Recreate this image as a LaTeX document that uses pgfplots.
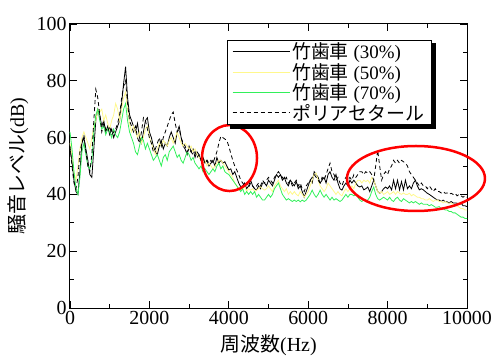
\documentclass[border=0pt]{standalone}
\usepackage{fontspec}
\setmainfont{Liberation Serif}
\newfontfamily\cjk{Noto Sans CJK JP}
\usepackage{pgfplots}
\pgfplotsset{compat=1.18}
\definecolor{yel}{RGB}{255,248,140}
\definecolor{grn}{RGB}{50,240,90}
\begin{document}
\begin{tikzpicture}
\begin{axis}[
  at={(0,0)}, anchor=south west,
  scale only axis, width=397bp, height=284bp,
  xmin=0, xmax=10000, ymin=0, ymax=100,
  xtick={0,2000,...,10000}, ytick={0,20,...,100},
  minor x tick num=1, minor y tick num=1,
  tick align=inside,
  major tick length=7bp, minor tick length=4bp,
  scaled x ticks=false,
  /pgf/number format/1000 sep={},
  /pgf/number format/assume math mode=true,
  tick label style={font=\fontsize{20}{22}\selectfont},
  axis line style={line width=1bp},
  every tick/.style={black, line width=0.8bp},
  clip=false,
  xlabel={{\cjk 周波数}(Hz)},
  ylabel={{\cjk 騒音レベル}(dB)},
  label style={font=\fontsize{20}{22}\selectfont},
  xlabel style={at={(axis description cs:0.5,-0.130)},anchor=center},
  ylabel style={at={(axis description cs:-0.131,0.5)},anchor=center},
  legend style={name=leg, at={(rel axis cs:0.395,0.944)}, anchor=north west,
    font=\fontsize{19}{19}\selectfont, draw=black, line width=1bp,
    fill=white, inner xsep=5bp, inner ysep=0.5bp, row sep=-1pt},
  legend cell align=left,
  legend image code/.code={\draw[#1] (0bp,0bp) -- (57bp,0bp);},
]
\addplot[black, line width=0.8bp] table[row sep=\\] {x y\\
0 56\\50 52\\100 45\\150 41\\200 40\\250 48\\300 58\\350 60\\400 56\\450 52\\500 47\\550 46\\600 56\\650 66\\700 70\\750 68\\800 64\\850 66\\900 62\\950 64\\1000 61\\1050 63\\1100 60\\1150 62\\1200 64\\1250 66\\1300 72\\1350 79\\1400 85\\1450 74\\1500 68\\1550 66\\1600 64\\1650 62\\1700 65\\1750 60\\1800 58\\1850 62\\1900 66\\1950 67\\2000 62\\2050 60\\2100 57\\2150 55\\2200 54\\2250 57\\2300 59\\2350 56\\2400 58\\2450 57\\2500 60\\2550 62\\2600 60\\2650 58\\2700 62\\2750 64\\2800 60\\2850 57\\2900 56\\2950 54\\3000 57\\3050 55\\3100 56\\3150 53\\3200 55\\3250 54\\3300 52\\3350 53\\3400 51\\3450 52\\3500 50\\3550 51\\3600 52\\3650 50\\3700 53\\3750 51\\3800 52\\3850 51\\3900 51.5\\3950 50\\4000 48.6\\4050 49\\4100 47\\4150 48\\4200 46\\4250 44\\4300 42.7\\4350 43\\4400 44\\4450 42\\4500 43\\4550 45\\4600 43\\4650 42\\4700 41.5\\4750 43\\4800 42\\4850 44\\4900 44\\4950 43\\5000 45\\5050 44\\5100 43\\5150 45\\5200 47\\5250 46\\5300 47\\5350 45\\5400 46\\5450 44\\5500 43\\5550 45\\5600 44\\5650 43\\5700 44.5\\5750 42\\5800 43\\5850 41\\5900 39\\5950 41\\6000 43\\6050 45\\6100 44\\6150 48\\6200 47\\6250 46\\6300 44\\6350 45\\6400 46\\6450 44\\6500 47\\6550 48\\6600 46\\6650 45\\6700 47\\6750 44\\6800 42\\6850 41.5\\6900 43\\6950 44\\7000 43\\7050 45\\7100 44\\7150 45\\7200 44\\7250 43\\7300 42.6\\7350 43\\7400 41.6\\7450 42\\7500 42.6\\7550 41\\7600 43\\7650 45\\7700 43\\7750 41\\7800 40.4\\7850 41\\7900 42\\7950 42.6\\8000 42\\8050 43\\8100 41.6\\8150 45\\8200 42\\8250 45\\8300 41.6\\8350 44.5\\8400 41.6\\8450 45\\8500 42\\8550 43\\8600 42\\8650 44\\8700 45\\8750 43\\8800 41.6\\8850 42\\8900 41.6\\8950 41\\9000 40.4\\9050 40\\9100 39.5\\9150 39\\9200 38.5\\9250 38\\9300 38\\9350 37.5\\9400 38\\9450 37.4\\9500 37.4\\9550 37\\9600 37.5\\9650 37\\9700 37\\9750 36.9\\9800 36.5\\9850 37\\9900 36\\9950 36\\10000 35.7\\
};
\addlegendentry{{\cjk 竹歯車} (30\%)}
\addplot[yel, line width=0.8bp] table[row sep=\\] {x y\\
0 58\\50 54\\100 48\\150 45\\200 50\\250 56\\300 60\\350 62\\400 60\\450 58\\500 56\\550 60\\600 64\\650 66\\700 70\\750 69\\800 70\\850 66\\900 68\\950 65\\1000 63\\1050 66\\1100 68\\1150 72\\1200 70\\1250 66\\1300 70\\1350 74\\1400 76\\1450 70\\1500 65\\1550 62\\1600 64\\1650 62\\1700 60\\1750 62\\1800 58\\1850 60\\1900 63\\1950 64\\2000 60\\2050 58\\2100 56\\2150 54\\2200 56\\2250 58\\2300 57\\2350 59\\2400 58\\2450 57\\2500 59\\2550 60\\2600 58\\2650 60\\2700 62\\2750 60\\2800 58\\2850 57\\2900 58\\2950 57\\3000 56\\3050 57\\3100 55\\3150 56\\3200 54\\3250 53\\3300 52\\3350 51\\3400 52\\3450 50\\3500 51\\3550 50\\3600 49\\3650 50\\3700 51\\3750 52\\3800 52\\3850 51\\3900 50\\3950 49\\4000 48\\4050 47\\4100 46\\4150 44\\4200 43\\4250 42\\4300 41.5\\4350 42\\4400 42.7\\4450 41\\4500 42\\4550 41.5\\4600 42\\4650 41\\4700 41.5\\4750 42\\4800 42.7\\4850 42\\4900 41.5\\4950 42\\5000 43\\5050 42\\5100 41\\5150 43\\5200 44\\5250 45\\5300 43\\5350 42\\5400 41\\5450 42\\5500 40\\5550 41\\5600 40\\5650 41\\5700 40\\5750 39.5\\5800 41\\5850 40\\5900 39\\5950 40\\6000 41\\6050 43\\6100 45\\6150 47\\6200 47.5\\6250 45\\6300 43\\6350 42\\6400 41\\6450 42\\6500 44\\6550 43\\6600 42\\6650 41\\6700 40\\6750 41\\6800 40\\6850 39.5\\6900 41\\6950 42\\7000 41\\7050 42\\7100 43\\7150 42\\7200 44\\7250 45\\7300 45\\7350 44\\7400 45\\7450 44.5\\7500 45\\7550 44\\7600 46\\7650 45\\7700 43\\7750 41\\7800 40.4\\7850 41\\7900 40\\7950 40.4\\8000 41\\8050 40\\8100 40.4\\8150 41\\8200 40\\8250 41\\8300 40.4\\8350 40\\8400 40.5\\8450 40\\8500 40\\8550 40.4\\8600 39.5\\8650 40\\8700 39.5\\8750 39\\8800 39\\8850 38.5\\8900 38.5\\8950 38\\9000 38\\9050 38.5\\9100 38\\9150 37.5\\9200 38\\9250 38\\9300 37.5\\9350 37.5\\9400 37\\9450 37.5\\9500 37\\9550 37\\9600 37\\9650 36.5\\9700 36\\9750 36\\9800 35.5\\9850 35\\9900 35\\9950 34.5\\10000 34.5\\
};
\addlegendentry{{\cjk 竹歯車} (50\%)}
\addplot[grn, line width=0.8bp] table[row sep=\\] {x y\\
0 62\\50 56\\100 48\\150 42\\200 40\\250 46\\300 55\\350 58\\400 54\\450 50\\500 49\\550 52\\600 62\\650 68\\700 70\\750 66\\800 63\\850 64\\900 61\\950 63\\1000 62\\1050 60\\1100 63\\1150 61\\1200 60\\1250 62\\1300 66\\1350 70\\1400 72\\1450 66\\1500 62\\1550 60\\1600 58\\1650 55\\1700 54\\1750 57\\1800 60\\1850 59\\1900 56\\1950 58\\2000 56\\2050 54\\2100 52\\2150 53\\2200 54\\2250 52\\2300 50\\2350 53\\2400 54\\2450 52\\2500 55\\2550 56\\2600 57\\2650 55\\2700 53\\2750 54\\2800 52\\2850 51\\2900 53\\2950 55\\3000 54\\3050 52\\3100 53\\3150 51\\3200 50\\3250 49\\3300 50\\3350 48\\3400 49\\3450 48\\3500 47\\3550 48\\3600 49\\3650 48\\3700 50\\3750 51\\3800 49\\3850 50\\3900 48\\3950 47.4\\4000 47\\4050 46\\4100 45\\4150 44\\4200 43\\4250 42\\4300 41\\4350 42\\4400 40\\4450 41\\4500 40\\4550 41\\4600 40\\4650 41\\4700 39\\4750 40\\4800 39\\4850 38\\4900 38\\4950 39\\5000 40\\5050 39\\5100 40\\5150 42\\5200 43\\5250 44\\5300 42\\5350 40\\5400 39\\5450 38\\5500 38.5\\5550 38\\5600 37.5\\5650 38\\5700 37.5\\5750 38\\5800 37.4\\5850 38\\5900 37.5\\5950 38\\6000 39\\6050 40\\6100 41.5\\6150 40\\6200 39\\6250 40\\6300 41.5\\6350 40\\6400 39\\6450 40\\6500 39\\6550 38\\6600 39\\6650 38\\6700 38.5\\6750 38\\6800 37.5\\6850 38\\6900 39\\6950 40\\7000 39\\7050 40\\7100 40\\7150 39.5\\7200 40\\7250 39\\7300 38\\7350 37.5\\7400 38\\7450 37.5\\7500 38\\7550 39\\7600 41\\7650 42.6\\7700 40\\7750 38.5\\7800 38\\7850 38.5\\7900 39\\7950 38.5\\8000 38\\8050 39\\8100 38\\8150 37.5\\8200 38.5\\8250 39\\8300 38\\8350 37.5\\8400 38.5\\8450 38\\8500 37.5\\8550 37\\8600 37.5\\8650 37\\8700 37.5\\8750 37\\8800 36.5\\8850 37\\8900 36.5\\8950 36.5\\9000 36.5\\9050 36\\9100 36.4\\9150 36\\9200 35.5\\9250 35.5\\9300 35.7\\9350 35\\9400 35\\9450 34.5\\9500 34.5\\9550 34\\9600 34\\9650 33.5\\9700 33.5\\9750 33\\9800 32.5\\9850 32\\9900 32\\9950 31.5\\10000 31.5\\
};
\addlegendentry{{\cjk 竹歯車} (70\%)}
\addplot[black, line width=0.8bp, dash pattern=on 4bp off 3bp] table[row sep=\\] {x y\\
0 57\\50 50\\100 44\\150 42\\200 46\\250 55\\300 58\\350 61\\400 55\\450 50\\500 48\\550 54\\600 66\\650 77\\700 74\\750 68\\800 62\\850 65\\900 63\\950 62\\1000 64\\1050 61\\1100 62\\1150 63\\1200 65\\1250 68\\1300 74\\1350 78\\1400 80\\1450 72\\1500 66\\1550 64\\1600 62\\1650 64\\1700 60\\1750 58\\1800 62\\1850 67\\1900 66\\1950 63\\2000 60\\2050 58\\2100 55\\2150 56\\2200 58\\2250 60\\2300 57\\2350 60\\2400 62\\2450 64\\2500 66\\2550 68\\2600 69\\2650 65\\2700 62\\2750 63\\2800 60\\2850 58\\2900 57\\2950 55\\3000 56\\3050 55\\3100 54\\3150 55\\3200 53\\3250 54\\3300 52\\3350 53\\3400 51\\3450 52\\3500 51\\3550 52\\3600 51\\3650 53\\3700 55\\3750 58\\3800 60.5\\3850 60\\3900 59.5\\3950 59\\4000 57\\4050 54.4\\4100 52\\4150 50\\4200 48.6\\4250 47\\4300 45\\4350 44\\4400 43\\4450 44\\4500 42.5\\4550 44\\4600 43\\4650 42\\4700 43\\4750 44\\4800 43\\4850 45\\4900 44\\4950 45\\5000 46\\5050 45\\5100 44\\5150 46\\5200 47\\5250 48\\5300 47\\5350 46\\5400 45\\5450 46\\5500 44\\5550 45\\5600 43\\5650 44\\5700 45\\5750 43\\5800 44\\5850 42\\5900 41\\5950 43\\6000 44\\6050 45\\6100 46\\6150 47\\6200 46\\6250 45\\6300 44\\6350 46\\6400 45\\6450 47\\6500 49\\6550 51\\6600 48\\6650 47\\6700 45\\6750 46\\6800 44\\6850 43\\6900 45\\6950 46\\7000 45\\7050 46\\7100 45\\7150 47\\7200 46\\7250 47\\7300 48\\7350 48\\7400 47\\7450 48\\7500 47.5\\7550 48\\7600 47\\7650 45\\7700 50\\7750 55.6\\7800 50\\7850 45\\7900 47\\7950 48\\8000 47\\8050 49\\8100 50\\8150 52\\8200 51\\8250 52\\8300 51\\8350 52\\8400 51.5\\8450 51\\8500 50\\8550 48\\8600 47\\8650 46\\8700 45\\8750 44\\8800 43\\8850 44\\8900 43\\8950 43\\9000 42\\9050 43\\9100 42\\9150 41\\9200 42\\9250 41\\9300 41\\9350 40.5\\9400 41\\9450 40.4\\9500 40.5\\9550 40\\9600 40.4\\9650 40\\9700 40.4\\9750 39.5\\9800 40\\9850 39.5\\9900 39\\9950 39.5\\10000 39\\
};
\addlegendentry{{\cjk ポリアセタール}}
\draw[red, line width=2.5bp] (axis cs:4018,52.8) ellipse [x radius=27.5bp, y radius=33bp];
\draw[red, line width=2.5bp] (axis cs:8715,45.6) ellipse [x radius=69bp, y radius=32.5bp];
\end{axis}
\fill[black] ([xshift=0.5bp,yshift=-3bp]leg.north east) rectangle ([xshift=4bp,yshift=-4bp]leg.south east);
\fill[black] ([xshift=3bp,yshift=-0.5bp]leg.south west) rectangle ([xshift=4bp,yshift=-4bp]leg.south east);
\pgfresetboundingbox
\useasboundingbox (-70bp,-51bp) rectangle (427bp,308bp);
\end{tikzpicture}
\end{document}
